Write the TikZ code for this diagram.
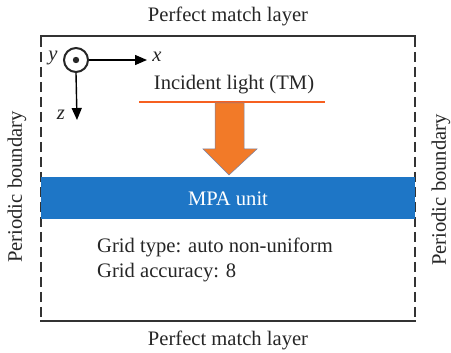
\documentclass[tikz,border=0pt]{standalone}
\usepackage{fontspec}
\setmainfont{Liberation Serif}
\usetikzlibrary{arrows.meta,positioning}
\definecolor{mpablue}{RGB}{30,118,198}
\definecolor{arroworange}{RGB}{242,122,40}
\definecolor{lineorange}{RGB}{246,96,32}
\definecolor{arrowedge}{RGB}{120,130,165}

\begin{document}
\begin{tikzpicture}[x=1pt,y=-1pt,font=\fontsize{20.6}{24}\selectfont,
  every node/.style={inner sep=0pt,text=black!85},
  axisline/.style={line width=1.4pt,-{Triangle[length=12pt,width=10pt]}}]
  \useasboundingbox (0,0) rectangle (451,353);
  % Perfect match layers
  \draw[line width=2.4pt,black!80] (40,36) -- (416,36);
  \draw[line width=2.4pt,black!80] (40,321) -- (416,321);
  % Periodic boundaries
  \draw[line width=2.4pt,black!80,dash pattern=on 10pt off 5pt] (41,37) -- (41,321);
  \draw[line width=2.4pt,black!80,dash pattern=on 10pt off 5pt] (415,37) -- (415,321);
  % MPA unit
  \fill[mpablue] (41,177) rectangle (415,219);
  \node[text=white] (mpa) at (228,199) {MPA unit};
  % Labels
  \node (pmltop) at (228,16) {Perfect match layer};
  \node (pmlbot) at (228,340) {Perfect match layer};
  \node[rotate=90] (pbleft) at (17,187) {Periodic boundary};
  \node[rotate=90] (pbright) at (441,190) {Periodic boundary};
  % Incident light
  \node (incident) at (234,85) {Incident light (TM)};
  \draw[lineorange,line width=1.8pt] (139,102) -- (325,102);
  \filldraw[fill=arroworange,draw=arrowedge,line width=0.5pt]
    (215,103) -- (244,103) -- (244,149) -- (257,149) -- (229,175)
    -- (203,149) -- (215,149) -- cycle;
  % Grid settings
  \node[anchor=west] (gridtype) at (97,247) {Grid type: auto non-uniform};
  \node[anchor=west] (gridacc) at (97,273) {Grid accuracy: 8};
  % Axes
  \node[circle,draw=black!85,line width=2pt,minimum size=24pt] (yaxis) at (76,60) {};
  \fill[black!85] (yaxis.center) circle (3.2pt);
  \coordinate (xend) at (147,60);
  \coordinate (zend) at (77,120);
  \draw[axisline] (yaxis.east) -- (xend);
  \draw[axisline] (yaxis.south) -- (zend);
  \node (xlab) at (157,57) {\itshape x};
  \node (zlab) at (61,115) {\itshape z};
  \node (ylab) at (53,58) {\itshape y};
\end{tikzpicture}
\end{document}
